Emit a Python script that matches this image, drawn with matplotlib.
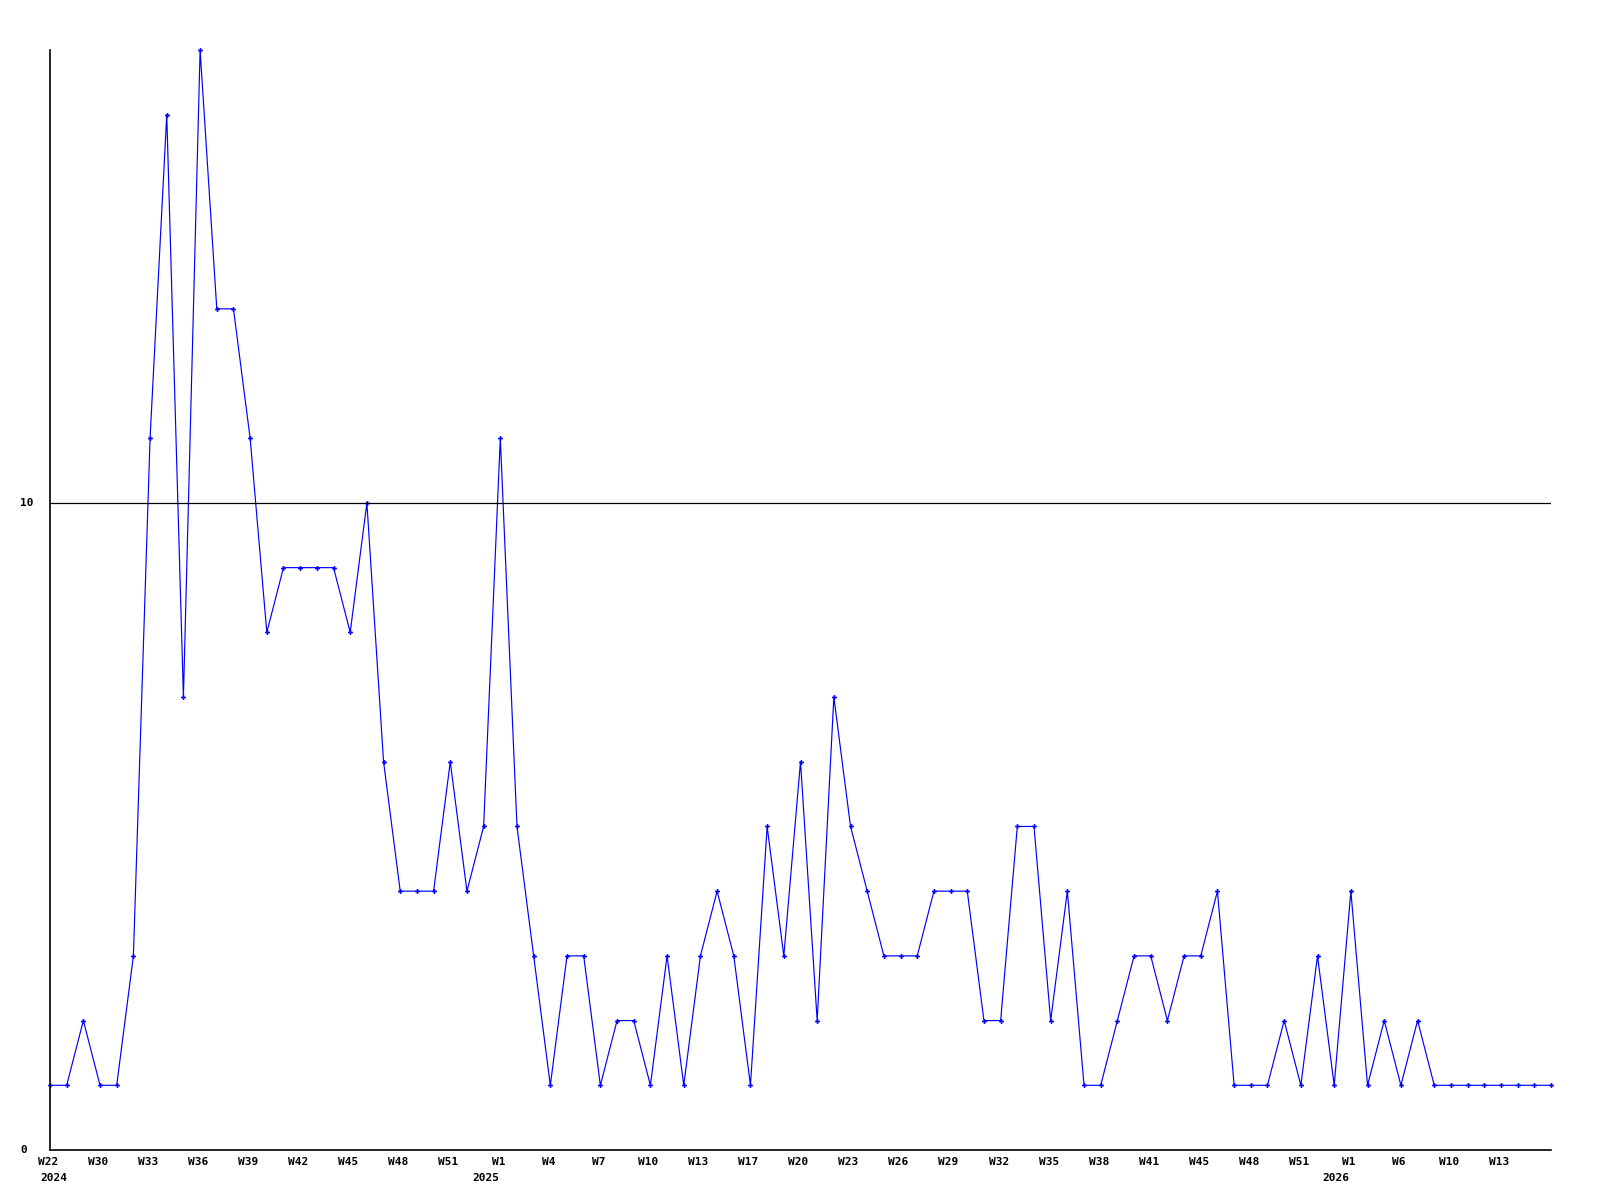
import matplotlib
matplotlib.use("Agg")
import matplotlib.pyplot as plt
import matplotlib.transforms as mtransforms

values = [1, 1, 2, 1, 1, 3, 11, 16, 7, 17, 13, 13, 11, 8, 9, 9, 9, 9, 8, 10,
          6, 4, 4, 4, 6, 4, 5, 11, 5, 3, 1, 3, 3, 1, 2, 2, 1, 3, 1, 3,
          4, 3, 1, 5, 3, 6, 2, 7, 5, 4, 3, 3, 3, 4, 4, 4, 2, 2, 5, 5,
          2, 4, 1, 1, 2, 3, 3, 2, 3, 3, 4, 1, 1, 1, 2, 1, 3, 1, 4, 1,
          2, 1, 2, 1, 1, 1, 1, 1, 1, 1, 1]

tick_labels = ["W22", "W30", "W33", "W36", "W39", "W42", "W45", "W48", "W51", "W1",
               "W4", "W7", "W10", "W13", "W17", "W20", "W23", "W26", "W29", "W32",
               "W35", "W38", "W41", "W45", "W48", "W51", "W1", "W6", "W10", "W13"]
tick_every = 3
year_labels = {0: "2024", 27: "2025", 78: "2026"}
y_ticks = [0, 10]

font = dict(family="DejaVu Sans Mono", fontweight="bold", fontsize=8)

fig = plt.figure(figsize=(16, 12), dpi=100)
ax = fig.add_axes([50 / 1600, 1 - 1150 / 1200, 1501 / 1600, 1100 / 1200])

xs = list(range(len(values)))
ax.plot(xs, values, color="#0000ff", linewidth=0.85, marker="P", markersize=3.5,
        markeredgewidth=0, clip_on=False)

ax.set_xlim(0, len(values) - 1)
ax.set_ylim(0, 17)

for s in ["top", "right"]:
    ax.spines[s].set_visible(False)
for s in ["left", "bottom"]:
    ax.spines[s].set_linewidth(1.2)
    ax.spines[s].set_color("black")

ax.axhline(10, color="black", linewidth=0.9)

ax.set_xticks([])
ax.set_yticks([])

# x tick labels
trans_x = mtransforms.blended_transform_factory(ax.transData, ax.transAxes)
for i, lab in enumerate(tick_labels):
    xpos = i * tick_every
    ax.text(xpos, 0, lab,
            transform=trans_x + mtransforms.ScaledTranslation(-2 / 100, -7 / 100, fig.dpi_scale_trans),
            ha="center", va="top", **font)
    if xpos in year_labels:
        dx = -10 / 100 if xpos == 0 else -28 / 100
        ax.text(xpos, 0, year_labels[xpos],
                transform=trans_x + mtransforms.ScaledTranslation(dx, -23 / 100, fig.dpi_scale_trans),
                ha="left", va="top", **font)

# y tick labels
trans_y = mtransforms.blended_transform_factory(fig.transFigure, ax.transData)
for yv in y_ticks:
    ax.text(20 / 1600, yv, str(yv), transform=trans_y, ha="left", va="center", **font)

fig.savefig("out.png", dpi=100, facecolor="white")
